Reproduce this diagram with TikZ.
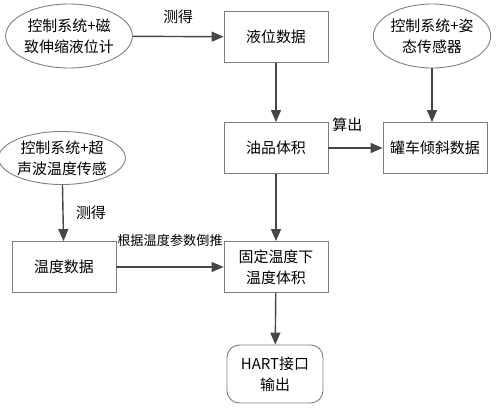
\documentclass[tikz,border=0pt]{standalone}
\usepackage{fontspec}
\newfontfamily\cjk{Noto Sans CJK SC}
\usetikzlibrary{shapes.geometric, arrows.meta, positioning}
\definecolor{mydark}{RGB}{70,70,70}
\definecolor{myframe}{RGB}{125,125,125}
\tikzset{
  block/.style={rectangle, draw=myframe, fill=white,
    minimum width=2.08cm, minimum height=1.02cm, align=center,
    font=\cjk\fontsize{8.5}{12}\selectfont, line width=0.5pt},
  sensor/.style={ellipse, draw=myframe, fill=white, inner sep=0pt,
    align=center, font=\cjk\fontsize{8.5}{12}\selectfont, line width=0.5pt},
  outblock/.style={block, rounded corners=7pt, minimum width=1.92cm,
    minimum height=1.16cm},
  arrow/.style={-{Triangle[length=0.24cm, width=0.2cm]}, line width=0.8pt, color=mydark},
  lbl/.style={font=\cjk\fontsize{8.5}{10}\selectfont, inner sep=1pt, text=black},
  smalllbl/.style={font=\cjk\fontsize{7.5}{9}\selectfont, inner sep=1pt, text=black}
}
\begin{document}
\begin{tikzpicture}[x=0.02cm, y=-0.02cm]
  \useasboundingbox (0,0) rectangle (500,408);
  % Sensors
  \node[sensor, minimum width=2.36cm, minimum height=1.28cm] (magsens) at (69,36) {控制系统+磁\\致伸缩液位计};
  \node[sensor, minimum width=2.08cm, minimum height=1.28cm] (tiltsens) at (432,36) {控制系统+姿\\态传感器};
  \node[sensor, minimum width=2.1cm, minimum height=1.06cm] (ultrasens) at (62,158) {控制系统+超\\声波温度传感};

  % Data blocks
  \node[block] (level) at (276,37) {液位数据};
  \node[block] (volume) at (276,148) {油品体积};
  \node[block] (tilt) at (435,148) {罐车倾斜数据};
  \node[block] (temp) at (64,267) {温度数据};
  \node[block] (fixvol) at (276,267) {固定温度下\\温度体积};
  \node[outblock] (hart) at (275,374) {HART接口\\输出};

  % Connectors
  \draw[arrow] (magsens) -- node[lbl, above=6pt] {测得} (level);
  \draw[arrow] (level) -- (volume);
  \draw[arrow] (tiltsens.south) -- (tiltsens.south |- tilt.north);
  \draw[arrow] (volume) -- node[lbl, pos=0.35, above=8pt] {算出} (tilt);
  \draw[arrow] (ultrasens) -- node[lbl, right=6pt] {测得} (temp);
  \draw[arrow] (temp) -- node[smalllbl, above=10pt] {根据温度参数倒推} (fixvol);
  \draw[arrow] (volume) -- (fixvol);
  \draw[arrow] (fixvol) -- (hart);
\end{tikzpicture}
\end{document}
